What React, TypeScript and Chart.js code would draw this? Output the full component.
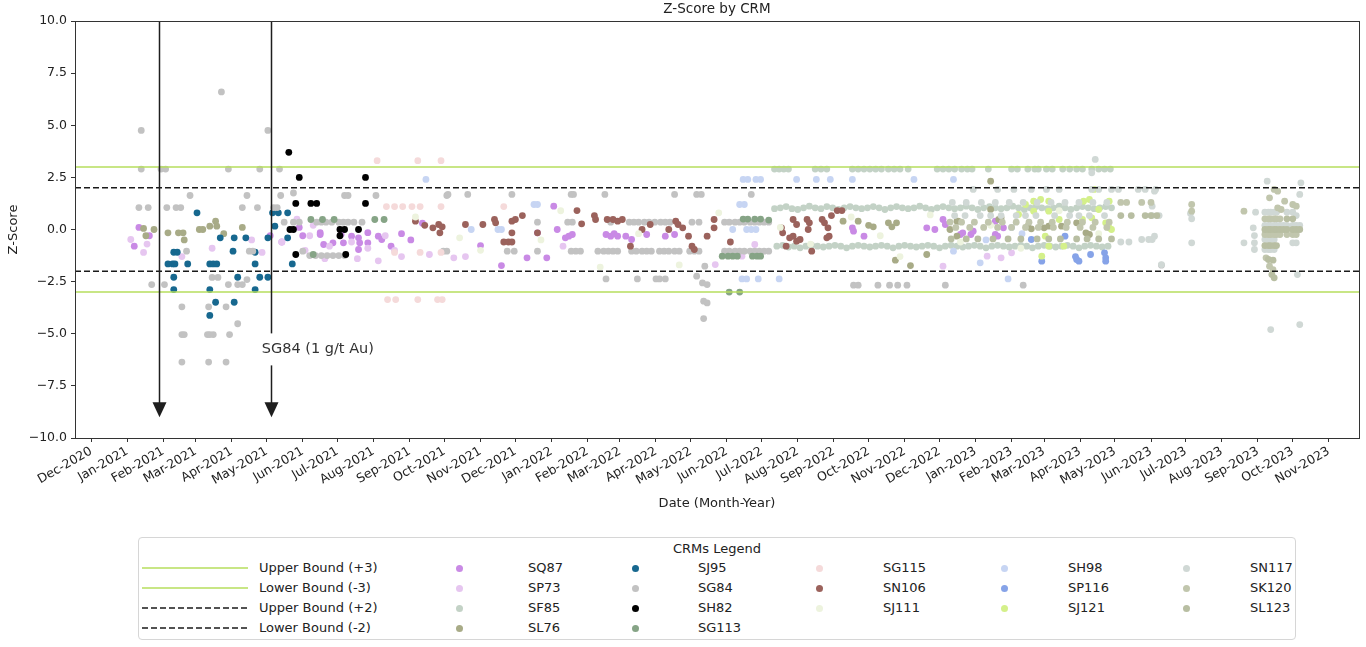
import { useEffect, useRef } from 'react';
import { Chart, registerables } from 'chart.js';

Chart.register(...registerables);

type Pt = [string, number];

const FONT = '"DejaVu Sans", sans-serif';

const xStart = '2020-11-17';
const xEnd = '2023-11-27';
const xTickLabels = [
  'Dec-2020', 'Jan-2021', 'Feb-2021', 'Mar-2021', 'Apr-2021', 'May-2021', 'Jun-2021', 'Jul-2021',
  'Aug-2021', 'Sep-2021', 'Oct-2021', 'Nov-2021', 'Dec-2021', 'Jan-2022', 'Feb-2022', 'Mar-2022',
  'Apr-2022', 'May-2022', 'Jun-2022', 'Jul-2022', 'Aug-2022', 'Sep-2022', 'Oct-2022', 'Nov-2022',
  'Dec-2022', 'Jan-2023', 'Feb-2023', 'Mar-2023', 'Apr-2023', 'May-2023', 'Jun-2023', 'Jul-2023',
  'Aug-2023', 'Sep-2023', 'Oct-2023', 'Nov-2023',
];
const monthNames = ['Jan', 'Feb', 'Mar', 'Apr', 'May', 'Jun', 'Jul', 'Aug', 'Sep', 'Oct', 'Nov', 'Dec'];

const boundLabels = ['Upper Bound (+3)', 'Lower Bound (-3)', 'Upper Bound (+2)', 'Lower Bound (-2)'];
const boundValues = [3, -3, 2, -2];
const boundColors = ['#b6de5c', '#b6de5c', '#1a1a1a', '#1a1a1a'];
const boundDashes = [[], [], [6, 3], [6, 3]];

// annotation: arrows pointing down on two dates, label next to the second
const arrowDates = ['2021-01-28', '2021-05-05'];
const arrowFrom = 10;
const arrowTo = -9;
const noteText = 'SG84 (1 g/t Au)';
const noteDate = '2021-06-14';
const noteZ = -5.75;

const sq87: Pt[] = [
  ['2021-01-07', -0.8], ['2021-01-11', 0.1], ['2021-01-20', -0.3],
  ['2021-05-04', -0.3], ['2021-05-14', -0.6], ['2021-05-29', 0.1], ['2021-06-01', -0.3], ['2021-06-16', -0.15],
  ['2021-06-16', -0.24], ['2021-06-19', -0.72], ['2021-06-27', -0.64], ['2021-07-04', -0.24], ['2021-07-06', -0.64],
  ['2021-07-13', -0.32], ['2021-07-19', -0.4], ['2021-07-19', -0.96], ['2021-07-20', -0.64], ['2021-07-27', -0.15],
  ['2021-07-27', -0.64], ['2021-08-05', -0.32], ['2021-08-08', -0.48], ['2021-08-16', -0.8], ['2021-08-25', -0.2],
  ['2021-09-02', -0.5], ['2021-09-12', 0.3],
  ['2021-11-01', -0.77], ['2021-11-19', -1.73], ['2021-12-11', -1.36], ['2021-12-20', -0.16], ['2021-12-28', -1.36],
  ['2022-01-03', 1.12], ['2022-01-06', 0.0], ['2022-01-13', -0.4], ['2022-01-16', -0.32], ['2022-01-19', -0.24],
  ['2022-02-17', -0.24], ['2022-02-21', -0.32], ['2022-02-24', -0.2], ['2022-02-27', -0.32], ['2022-03-06', -0.32],
  ['2022-03-11', -0.48], ['2022-03-24', -0.24], ['2022-04-09', -0.32], ['2022-04-17', -0.24],
  ['2022-09-17', 0.08], ['2022-09-18', -0.08], ['2022-09-27', -0.32], ['2022-11-20', 0.08], ['2022-11-27', 0.0],
  ['2022-12-04', 0.48], ['2022-12-06', 0.24], ['2022-12-19', -0.24], ['2022-12-21', -0.16], ['2022-12-28', -0.24],
  ['2022-12-30', -0.08], ['2023-01-18', -0.24], ['2023-01-18', 0.4], ['2023-01-20', -0.32], ['2023-01-25', 0.08],
];

const sp73: Pt[] = [
  ['2021-01-04', -0.48], ['2021-01-15', -1.1], ['2021-01-18', -0.7], ['2021-02-17', -1.3], ['2021-03-15', -0.9],
  ['2021-04-18', -0.5], ['2021-04-27', -1.1], ['2021-05-14', -0.6], ['2021-05-27', 0.5], ['2021-06-03', -1.0],
  ['2021-06-07', -0.3], ['2021-06-10', 0.2], ['2021-06-20', -1.4], ['2021-06-24', -0.8], ['2021-07-13', -0.6],
  ['2021-07-18', -1.4], ['2021-07-27', -0.9], ['2021-08-05', -1.5], ['2021-08-11', -0.3], ['2021-08-19', -1.0],
  ['2021-08-25', -1.3], ['2021-09-18', -1.2], ['2021-10-09', -1.36], ['2021-10-19', -1.3], ['2022-01-11', -0.8],
  ['2022-05-22', -1.68], ['2022-06-14', -1.28], ['2022-06-25', -0.72], ['2022-12-04', -1.76], ['2023-01-11', -1.28],
  ['2023-01-23', -1.36], ['2023-02-01', -1.12],
];

const sf85: Pt[] = [
  ['2022-07-12', 2.9], ['2022-07-16', 2.9], ['2022-07-20', 2.9], ['2022-07-24', 2.9], ['2022-08-16', 2.9],
  ['2022-08-21', 2.9], ['2022-08-26', 2.9], ['2022-09-17', 2.9], ['2022-09-22', 2.9], ['2022-09-27', 2.9],
  ['2022-10-02', 2.9], ['2022-10-07', 2.9], ['2022-10-12', 2.9], ['2022-10-18', 2.9], ['2022-10-23', 2.9],
  ['2022-10-28', 2.9], ['2022-11-04', 2.9], ['2022-11-29', 2.9], ['2022-12-04', 2.9], ['2022-12-09', 2.9],
  ['2022-12-14', 2.9], ['2022-12-20', 2.9], ['2022-12-25', 2.9], ['2022-12-29', 2.9], ['2023-01-12', 2.9],
  ['2023-02-01', 2.9], ['2023-02-06', 2.9], ['2023-02-15', 2.9], ['2023-02-21', 2.9], ['2023-02-24', 2.9],
  ['2023-03-03', 2.9], ['2023-03-08', 2.9], ['2023-03-17', 2.9], ['2023-03-23', 2.9], ['2023-03-29', 2.9],
  ['2023-04-03', 2.9], ['2023-04-11', 2.9], ['2023-04-17', 2.9], ['2023-04-22', 2.9], ['2023-04-27', 2.9],
  ['2022-07-12', 1.0], ['2022-07-17', 1.04], ['2022-07-22', 1.1], ['2022-07-27', 1.0], ['2022-08-01', 0.96],
  ['2022-08-06', 1.04], ['2022-08-11', 1.12], ['2022-08-16', 1.04], ['2022-08-21', 1.0], ['2022-08-26', 1.1],
  ['2022-08-31', 1.04], ['2022-09-05', 0.96], ['2022-09-10', 1.04], ['2022-09-15', 1.1], ['2022-09-20', 1.04],
  ['2022-09-25', 1.0], ['2022-09-30', 1.04], ['2022-10-05', 1.1], ['2022-10-10', 1.04], ['2022-10-15', 0.96],
  ['2022-10-20', 1.04], ['2022-10-25', 1.1], ['2022-10-30', 1.04], ['2022-11-04', 1.0], ['2022-11-09', 1.04],
  ['2022-11-14', 1.12], ['2022-11-19', 1.04], ['2022-11-24', 0.96], ['2022-11-29', 1.04], ['2022-12-04', 1.1],
  ['2022-12-09', 1.04], ['2022-12-14', 1.0], ['2022-12-19', 1.04], ['2022-12-24', 1.12], ['2022-12-29', 1.04],
  ['2023-01-03', 0.96], ['2023-01-08', 1.04], ['2023-01-13', 1.1], ['2023-01-18', 1.04], ['2023-01-23', 1.0],
  ['2023-01-28', 1.04], ['2023-02-02', 1.12], ['2023-02-07', 1.04], ['2023-02-12', 0.96], ['2023-02-17', 1.04],
  ['2023-02-22', 1.1], ['2023-02-27', 1.04], ['2023-03-04', 1.0], ['2023-03-09', 1.04], ['2023-03-14', 1.12],
  ['2023-03-19', 1.04], ['2023-03-24', 0.96], ['2023-03-29', 1.04], ['2023-04-03', 1.1], ['2023-04-08', 1.04],
  ['2023-04-13', 1.0], ['2023-04-18', 1.04], ['2023-04-23', 1.1], ['2023-04-28', 1.04],
  ['2022-07-14', -0.8], ['2022-07-19', -0.76], ['2022-07-24', -0.84], ['2022-07-29', -0.8], ['2022-08-03', -0.88],
  ['2022-08-08', -0.8], ['2022-08-13', -0.76], ['2022-08-18', -0.8], ['2022-08-23', -0.84], ['2022-08-28', -0.8],
  ['2022-09-02', -0.76], ['2022-09-07', -0.8], ['2022-09-12', -0.88], ['2022-09-17', -0.8], ['2022-09-22', -0.76],
  ['2022-09-27', -0.8], ['2022-10-02', -0.84], ['2022-10-07', -0.8], ['2022-10-12', -0.76], ['2022-10-17', -0.8],
  ['2022-10-22', -0.88], ['2022-10-27', -0.8], ['2022-11-01', -0.76], ['2022-11-06', -0.8], ['2022-11-11', -0.84],
  ['2022-11-16', -0.8], ['2022-11-21', -0.76], ['2022-11-26', -0.8], ['2022-12-01', -0.88], ['2022-12-06', -0.8],
  ['2022-12-11', -0.76], ['2022-12-16', -0.8], ['2022-12-21', -0.84], ['2022-12-26', -0.8], ['2022-12-31', -0.76],
  ['2023-01-05', -0.8], ['2023-01-10', -0.88], ['2023-01-15', -0.8], ['2023-01-20', -0.76], ['2023-01-25', -0.8],
  ['2023-01-30', -0.84], ['2023-02-04', -0.8], ['2023-02-09', -0.76], ['2023-02-14', -0.8], ['2023-02-19', -0.88],
  ['2023-02-24', -0.8], ['2023-03-01', -0.76], ['2023-03-06', -0.8], ['2023-03-11', -0.84], ['2023-03-16', -0.8],
  ['2023-03-21', -0.76], ['2023-03-26', -0.8], ['2023-03-31', -0.88], ['2023-04-05', -0.8], ['2023-04-10', -0.76],
  ['2023-04-15', -0.8], ['2023-04-20', -0.84], ['2023-04-25', -0.8],
];

const sl76: Pt[] = [
  ['2021-01-15', 0.05], ['2021-01-17', -0.3], ['2021-01-24', 0.0], ['2021-02-05', -0.16], ['2021-02-14', -0.16],
  ['2021-02-18', -0.16], ['2021-02-19', -0.5], ['2021-03-04', 0.0], ['2021-03-07', 0.0], ['2021-03-13', 0.16],
  ['2021-03-18', 0.4], ['2021-03-19', 0.16], ['2021-03-25', -0.2], ['2021-04-10', 0.1],
  ['2022-09-09', 0.4], ['2022-09-22', 0.4], ['2022-10-01', 0.2], ['2022-10-05', 0.13], ['2022-10-18', 0.32],
  ['2022-10-21', 0.13], ['2022-10-24', -1.47], ['2022-10-25', 0.32], ['2022-11-06', -1.73], ['2022-11-20', -1.2],
  ['2022-12-10', 0.0], ['2022-12-16', 0.4], ['2022-12-16', -0.32], ['2022-12-17', 0.4], ['2023-01-14', 0.96],
  ['2023-01-14', 2.32], ['2023-01-21', 0.48], ['2023-01-23', 0.56], ['2023-02-15', 0.16], ['2023-02-18', 0.03],
  ['2023-03-01', 0.08], ['2023-03-05', 0.16], ['2023-03-16', 0.16], ['2023-03-29', 0.32], ['2023-04-06', -0.16],
  ['2023-04-09', -0.24],
];

const sj95: Pt[] = [
  ['2021-02-05', -1.65], ['2021-02-09', -1.65], ['2021-02-10', -1.09], ['2021-02-10', -2.29], ['2021-02-10', -2.88],
  ['2021-02-11', -1.65], ['2021-02-13', -1.09], ['2021-02-22', -1.65], ['2021-03-02', 0.8], ['2021-03-13', -1.65],
  ['2021-03-13', -2.88], ['2021-03-13', -4.12], ['2021-03-16', -1.65], ['2021-03-18', -3.49], ['2021-03-19', -1.65],
  ['2021-03-22', -0.4], ['2021-04-02', -1.04], ['2021-04-03', -0.4], ['2021-04-03', -3.49], ['2021-04-06', -2.29],
  ['2021-04-13', -0.4], ['2021-04-21', -1.09], ['2021-04-21', -1.65], ['2021-04-21', -2.88], ['2021-04-25', -2.29],
  ['2021-05-02', -0.4], ['2021-05-02', -2.29], ['2021-05-06', 0.8], ['2021-05-08', 0.16], ['2021-05-11', 0.8],
  ['2021-05-19', 0.8], ['2021-05-19', -0.4], ['2021-05-23', -1.65],
];

const sg84: Pt[] = [
  ['2021-01-11', 1.05], ['2021-01-13', 4.75], ['2021-01-13', 2.9], ['2021-01-19', 1.05], ['2021-01-22', -2.64],
  ['2021-01-30', 2.9], ['2021-02-02', -2.64], ['2021-02-03', 2.9], ['2021-02-04', 1.05], ['2021-02-12', 1.05],
  ['2021-02-16', 1.05], ['2021-02-17', -3.71], ['2021-02-17', -5.04], ['2021-02-17', -6.36], ['2021-02-19', -5.04],
  ['2021-02-21', -1.04], ['2021-02-24', 1.63], ['2021-03-11', -5.04], ['2021-03-12', -3.71], ['2021-03-12', -6.36],
  ['2021-03-13', -5.04], ['2021-03-15', -2.3], ['2021-03-16', -5.04], ['2021-03-20', -2.3], ['2021-03-23', 6.6],
  ['2021-03-27', -3.71], ['2021-03-27', -6.36], ['2021-03-29', 2.9], ['2021-03-29', -2.64], ['2021-03-30', -5.04],
  ['2021-04-06', -2.64], ['2021-04-06', -4.52], ['2021-04-10', 1.05], ['2021-04-10', -2.64], ['2021-04-14', 1.63],
  ['2021-04-14', -2.4], ['2021-04-16', -1.04], ['2021-04-19', -1.04], ['2021-04-23', 1.05], ['2021-04-25', 2.9],
  ['2021-05-02', 4.75], ['2021-05-07', 1.05], ['2021-05-10', 1.05], ['2021-05-12', 2.9], ['2021-05-13', 1.63],
  ['2021-05-16', 0.35], ['2021-05-24', 1.75], ['2021-05-24', 0.35], ['2021-05-29', 0.35], ['2021-06-01', -1.04],
  ['2021-06-07', -1.25], ['2021-06-12', -1.25], ['2021-06-13', 0.35], ['2021-06-17', 0.35], ['2021-06-17', -1.25],
  ['2021-06-21', 0.35], ['2021-06-22', -1.25], ['2021-06-26', 0.35], ['2021-06-27', -1.25], ['2021-07-02', 0.35],
  ['2021-07-02', -1.25], ['2021-07-06', 0.35], ['2021-07-07', 1.63], ['2021-07-07', -1.25], ['2021-07-10', 1.63],
  ['2021-07-10', 0.35], ['2021-07-15', 0.35], ['2021-07-22', 0.35], ['2021-08-03', 1.63],
  ['2021-09-30', -1.04], ['2021-10-03', 1.63], ['2021-10-03', -1.04], ['2021-10-04', 1.68], ['2021-10-21', 1.68],
  ['2021-11-24', -1.04], ['2021-11-28', 1.68], ['2021-11-30', -1.04], ['2021-12-20', 0.35], ['2021-12-20', -1.04],
  ['2022-01-15', 0.35], ['2022-01-18', 1.68], ['2022-01-18', -1.04], ['2022-01-19', 0.35], ['2022-01-20', 1.68],
  ['2022-01-22', -1.04], ['2022-01-26', -1.04], ['2022-02-10', -1.04], ['2022-02-15', -1.04], ['2022-02-16', 1.68],
  ['2022-02-17', -2.37], ['2022-02-19', -1.04], ['2022-02-21', 0.35], ['2022-02-23', -1.04], ['2022-02-27', -1.04],
  ['2022-03-09', 0.35], ['2022-03-11', -1.04], ['2022-03-13', 0.35], ['2022-03-15', -1.04], ['2022-03-16', -2.37],
  ['2022-03-17', 0.35], ['2022-03-20', -1.04], ['2022-03-22', 0.35], ['2022-03-24', -1.04], ['2022-03-26', 0.35],
  ['2022-03-28', -1.04], ['2022-03-31', 0.35], ['2022-04-01', -2.37], ['2022-04-04', -1.04], ['2022-04-04', -2.37],
  ['2022-04-05', 0.35], ['2022-04-08', -1.04], ['2022-04-09', 0.35], ['2022-04-09', -2.37], ['2022-04-12', -1.04],
  ['2022-04-13', 0.35], ['2022-04-17', 1.68], ['2022-04-17', -1.04], ['2022-04-21', -1.04], ['2022-04-30', -1.04],
  ['2022-05-02', 0.35], ['2022-05-04', -1.04], ['2022-05-06', 1.68], ['2022-05-06', -2.24], ['2022-05-08', 0.35],
  ['2022-05-08', -1.04], ['2022-05-10', 1.68], ['2022-05-11', -2.56], ['2022-05-12', -3.44], ['2022-05-12', -4.27],
  ['2022-05-13', -1.76], ['2022-05-15', -2.64], ['2022-05-15', -3.52], ['2022-05-30', 0.35], ['2022-05-30', -1.04],
  ['2022-06-03', 0.35], ['2022-06-03', -1.04], ['2022-06-08', 0.35], ['2022-06-08', -1.04], ['2022-06-12', 0.35],
  ['2022-06-12', -1.04], ['2022-06-16', 0.35], ['2022-06-16', -1.04], ['2022-06-21', 0.35], ['2022-06-21', -1.04],
  ['2022-06-22', 1.68], ['2022-06-25', 0.35], ['2022-06-25', -1.04], ['2022-06-29', 0.35], ['2022-06-29', -1.04],
  ['2022-07-03', 0.35], ['2022-07-03', -1.04], ['2022-07-07', 0.35], ['2022-07-07', -1.04], ['2022-09-18', -2.67],
  ['2022-09-22', -2.67], ['2022-10-09', -2.67], ['2022-10-19', -2.67], ['2022-10-26', -2.67], ['2022-11-03', -2.67],
  ['2022-12-06', -2.67], ['2023-02-11', -2.67], ['2023-06-10', -1.71],
];

const sh82: Pt[] = [
  ['2021-05-20', 3.7], ['2021-05-21', 0.0], ['2021-05-24', 0.0], ['2021-05-26', 1.25], ['2021-05-26', -1.2],
  ['2021-05-29', 2.5], ['2021-06-08', 1.25], ['2021-06-13', 1.25], ['2021-07-03', 0.0], ['2021-07-03', -0.3],
  ['2021-07-07', 0.0], ['2021-07-08', -1.2], ['2021-07-19', 0.0], ['2021-07-25', 2.5], ['2021-07-25', 1.25],
];

const sg113: Pt[] = [
  ['2021-06-08', 0.48], ['2021-06-10', -1.2], ['2021-06-18', 0.48], ['2021-06-28', 0.48], ['2021-08-02', 0.48],
  ['2021-08-10', 0.48], ['2022-05-28', -1.28], ['2022-06-02', -1.28], ['2022-06-03', -3.0], ['2022-06-06', -1.28],
  ['2022-06-10', -1.28], ['2022-06-12', -3.0], ['2022-06-15', 0.5], ['2022-06-19', 0.5], ['2022-06-23', -1.28],
  ['2022-06-25', 0.5], ['2022-06-27', -1.28], ['2022-06-30', 0.5], ['2022-06-30', -1.28], ['2022-07-07', 0.45],
];

const sg115: Pt[] = [
  ['2021-08-04', 3.3], ['2021-08-12', 1.1], ['2021-08-13', -3.36], ['2021-08-19', 1.1], ['2021-08-19', -1.1],
  ['2021-08-20', -3.36], ['2021-08-26', 1.1], ['2021-09-03', 1.1], ['2021-09-08', 3.3], ['2021-09-08', -3.36],
  ['2021-09-10', 1.1], ['2021-09-10', -1.1], ['2021-09-25', -3.36], ['2021-09-28', 3.3], ['2021-09-28', 1.1],
  ['2021-09-28', -1.1], ['2021-09-29', -3.36], ['2021-11-21', 1.1],
];

const sn106: Pt[] = [
  ['2021-09-06', 0.4], ['2021-09-14', 0.2], ['2021-09-21', 0.08], ['2021-09-26', 0.24], ['2021-09-27', -0.16],
  ['2021-09-29', 0.13], ['2021-10-19', 0.24], ['2021-11-03', 0.24], ['2021-11-13', 0.48], ['2021-11-14', 0.32],
  ['2021-11-21', -0.6], ['2021-11-25', -0.6], ['2021-11-28', 0.4], ['2021-11-28', -0.16], ['2021-11-28', -0.6],
  ['2021-12-01', 0.48], ['2021-12-07', 0.67], ['2021-12-20', -0.16], ['2022-01-23', 0.91], ['2022-01-27', 0.27],
  ['2022-02-07', 0.67], ['2022-02-08', 0.48], ['2022-02-18', 0.48], ['2022-02-23', 0.48], ['2022-02-27', 0.4],
  ['2022-03-03', 0.48], ['2022-03-10', -0.8], ['2022-03-20', 0.0], ['2022-03-27', 0.24], ['2022-04-12', 0.0],
  ['2022-04-18', 0.4], ['2022-04-20', 0.24], ['2022-04-24', 0.08], ['2022-04-29', -0.32], ['2022-05-02', -0.8],
  ['2022-05-04', -0.96], ['2022-05-15', -0.32], ['2022-05-21', 0.48], ['2022-05-21', 0.08], ['2022-06-04', -0.6],
  ['2022-07-18', 0.08], ['2022-07-19', -0.16], ['2022-07-22', -0.8], ['2022-07-25', -0.4], ['2022-07-28', 0.48],
  ['2022-07-28', -0.32], ['2022-07-31', 0.24], ['2022-07-31', -0.56], ['2022-08-03', -0.48], ['2022-08-09', 0.48],
  ['2022-08-10', 0.0], ['2022-08-11', 0.32], ['2022-08-13', -1.04], ['2022-08-22', 0.48], ['2022-08-24', 0.32],
  ['2022-08-26', -0.4], ['2022-08-27', 0.08], ['2022-08-28', -0.32], ['2022-08-30', 0.67], ['2022-09-04', 0.91],
  ['2022-09-08', 0.91],
];

const sj111: Pt[] = [
  ['2021-09-06', 0.6], ['2021-10-14', -0.4], ['2021-11-01', -1.0], ['2021-12-23', -0.5], ['2022-01-09', 0.9],
  ['2022-02-12', -1.8], ['2022-03-17', -0.2], ['2022-04-21', -1.7], ['2022-05-25', 0.8], ['2022-07-17', 0.1],
  ['2022-08-12', -0.7], ['2022-09-16', 0.6], ['2022-10-11', -0.3], ['2022-10-28', -1.3], ['2022-11-23', 0.7],
  ['2022-12-19', -0.6], ['2023-01-14', 0.2], ['2023-02-09', -0.9], ['2023-03-14', 0.9], ['2023-04-17', -0.2],
];

const sh98: Pt[] = [
  ['2021-09-15', 2.4], ['2021-10-24', 0.0], ['2021-11-16', 0.0], ['2021-11-19', 0.0], ['2021-12-17', 1.2],
  ['2021-12-20', 1.2], ['2022-06-06', 0.0], ['2022-06-12', 1.2], ['2022-06-14', -2.37], ['2022-06-15', 2.4],
  ['2022-06-16', 1.2], ['2022-06-18', 0.0], ['2022-06-18', -2.37], ['2022-06-19', 2.4], ['2022-06-22', 0.0],
  ['2022-06-26', 2.4], ['2022-06-26', 0.0], ['2022-06-28', -2.37], ['2022-06-30', 2.4], ['2022-07-16', -2.37],
  ['2022-07-31', 2.4], ['2022-08-17', 2.4], ['2022-08-29', 2.4], ['2022-09-17', 2.4], ['2022-11-09', 2.4],
  ['2022-12-13', 2.4], ['2022-12-13', -1.04], ['2023-01-05', -1.6], ['2023-01-10', -0.5], ['2023-01-29', -2.37],
  ['2023-02-01', 0.1], ['2023-02-10', -0.2],
];

const sp116: Pt[] = [
  ['2023-02-18', -0.48], ['2023-02-27', -1.52], ['2023-03-19', -0.32], ['2023-03-28', -1.3], ['2023-03-29', -1.44],
  ['2023-03-31', -1.52], ['2023-04-10', -1.2], ['2023-04-22', -1.12], ['2023-04-23', -1.36], ['2023-04-23', -1.52],
];

const sj121: Pt[] = [
  ['2023-02-07', 0.72], ['2023-02-13', 1.2], ['2023-02-20', 1.36], ['2023-02-20', 0.88], ['2023-02-26', 1.44],
  ['2023-02-27', -1.28], ['2023-03-02', -0.32], ['2023-03-05', 1.36], ['2023-03-05', 0.88], ['2023-03-05', -0.8],
  ['2023-03-14', 0.48], ['2023-03-18', -0.8], ['2023-04-03', 0.48], ['2023-04-04', 1.36], ['2023-04-09', 1.44],
  ['2023-04-11', 0.56], ['2023-04-13', 1.92], ['2023-04-17', 0.96], ['2023-04-23', 0.32], ['2023-04-26', 1.36],
  ['2023-04-26', 0.08], ['2023-04-28', 0.0],
];

const sn117: Pt[] = [
  ['2022-12-30', 1.92], ['2023-01-20', 1.92], ['2023-02-03', 1.92], ['2023-02-18', 1.92], ['2023-03-03', 1.92],
  ['2023-03-14', 1.92], ['2023-04-11', 1.92], ['2023-04-17', 1.92], ['2023-04-28', 1.92], ['2023-05-04', 1.92],
  ['2023-05-21', 1.92], ['2023-05-27', 1.92], ['2023-06-05', 1.92], ['2023-04-14', 3.36], ['2023-04-11', 2.72],
  ['2022-12-12', 1.3], ['2022-12-24', 1.3], ['2023-01-06', 1.3], ['2023-01-18', 1.3], ['2023-01-30', 1.3],
  ['2023-02-11', 1.3], ['2023-02-23', 1.3], ['2023-03-07', 1.3], ['2023-03-19', 1.3], ['2023-03-31', 1.3],
  ['2023-04-12', 1.3], ['2023-04-24', 1.3],
  ['2022-12-14', 0.67], ['2022-12-23', 0.67], ['2023-01-05', 0.67], ['2023-01-14', 0.67], ['2023-01-23', 0.67],
  ['2023-02-05', 0.67], ['2023-02-13', 0.67], ['2023-02-22', 0.67], ['2023-03-10', 0.67], ['2023-03-23', 0.67],
  ['2023-03-31', 0.67], ['2023-04-09', 0.67], ['2023-04-22', 0.67],
  ['2023-05-06', -0.6], ['2023-05-13', -0.6], ['2023-05-24', -0.48], ['2023-05-30', -0.48], ['2023-06-04', -0.32],
  ['2023-06-02', -0.48], ['2023-06-10', -1.68], ['2023-06-04', 1.84], ['2023-06-02', 1.12], ['2023-06-02', 0.67],
  ['2023-06-08', 0.67], ['2023-07-05', 0.77], ['2023-07-06', 0.51], ['2023-07-06', -0.64],
  ['2023-08-20', -0.64], ['2023-08-28', 0.08], ['2023-08-29', -0.29], ['2023-08-29', -0.64], ['2023-08-29', -0.96],
  ['2023-08-30', 0.83], ['2023-09-09', 2.32], ['2023-09-12', -4.8], ['2023-10-08', 2.24], ['2023-10-07', 1.68],
  ['2023-10-07', -4.56], ['2023-10-05', -2.16],
  ['2023-09-07', 0.83], ['2023-09-10', 0.83], ['2023-09-12', 0.83], ['2023-09-15', 0.83], ['2023-09-17', 0.83],
  ['2023-09-07', 0.2], ['2023-09-10', 0.2], ['2023-09-12', 0.2], ['2023-09-15', 0.2], ['2023-09-17', 0.2],
  ['2023-09-20', 0.2], ['2023-09-23', 0.2], ['2023-09-07', -0.48], ['2023-09-10', -0.48], ['2023-09-12', -0.48],
  ['2023-09-15', -0.48], ['2023-09-07', -0.96], ['2023-09-10', -0.96], ['2023-09-12', -0.96], ['2023-09-15', -0.96],
  ['2023-09-26', 0.83], ['2023-10-01', 0.83], ['2023-10-04', 0.67], ['2023-09-26', 0.2], ['2023-10-01', 0.2],
  ['2023-10-04', 0.2], ['2023-10-07', 0.2], ['2023-10-01', -0.64], ['2023-10-04', -0.64],
];

const sk120: Pt[] = [
  ['2022-12-10', 0.35], ['2022-12-20', 0.35], ['2022-12-31', 0.35], ['2023-01-12', 0.35], ['2023-01-24', 0.35],
  ['2023-02-05', 0.35], ['2023-02-16', 0.35], ['2023-02-26', 0.35], ['2023-03-08', 0.35], ['2023-03-21', 0.35],
  ['2023-04-03', 0.35], ['2023-04-14', 0.35], ['2023-04-26', 0.35],
  ['2022-12-15', 0.1], ['2022-12-27', 0.1], ['2023-01-08', 0.1], ['2023-01-20', 0.1], ['2023-02-01', 0.1],
  ['2023-02-13', 0.1], ['2023-02-24', 0.1], ['2023-03-09', 0.1], ['2023-03-20', 0.1], ['2023-04-01', 0.1],
  ['2023-04-12', 0.1], ['2023-04-24', 0.1],
  ['2023-05-06', 1.3], ['2023-05-11', 1.3], ['2023-05-24', 1.3], ['2023-06-01', 1.3], ['2023-07-06', 1.2],
  ['2023-07-06', 0.88],
  ['2023-09-07', 0.51], ['2023-09-10', 0.51], ['2023-09-12', 0.51], ['2023-09-15', 0.51], ['2023-09-17', 0.51],
  ['2023-09-20', 0.51], ['2023-09-07', -0.24], ['2023-09-10', -0.24], ['2023-09-12', -0.24], ['2023-09-15', -0.24],
  ['2023-09-17', -0.24], ['2023-09-20', -0.24], ['2023-09-26', -0.24], ['2023-10-01', -0.24], ['2023-10-04', -0.24],
  ['2023-08-20', 0.88], ['2023-09-11', 1.52], ['2023-09-15', 1.92], ['2023-09-18', 1.84], ['2023-09-18', 1.04],
  ['2023-09-21', 0.96], ['2023-09-24', 1.36], ['2023-10-01', 1.2], ['2023-10-04', 1.12], ['2023-09-08', -1.36],
  ['2023-09-11', -1.76], ['2023-09-14', -1.92],
];

const sl123: Pt[] = [
  ['2022-12-11', -0.45], ['2022-12-24', -0.45], ['2023-01-03', -0.45], ['2023-01-16', -0.45], ['2023-01-29', -0.45],
  ['2023-02-09', -0.45], ['2023-02-23', -0.45], ['2023-03-05', -0.45], ['2023-03-15', -0.45], ['2023-03-29', -0.45],
  ['2023-04-07', -0.45], ['2023-04-17', -0.45], ['2023-04-28', -0.45],
  ['2023-05-06', 0.67], ['2023-05-15', 0.67], ['2023-05-27', 0.67], ['2023-06-01', 0.67], ['2023-06-06', 0.67],
  ['2023-09-07', 0.0], ['2023-09-10', 0.0], ['2023-09-12', 0.0], ['2023-09-15', 0.0], ['2023-09-17', 0.0],
  ['2023-09-20', 0.0], ['2023-09-23', 0.0], ['2023-09-07', -0.77], ['2023-09-10', -0.77], ['2023-09-12', -0.77],
  ['2023-09-15', -0.77], ['2023-09-17', -0.77], ['2023-09-26', 0.0], ['2023-10-01', 0.0], ['2023-10-04', 0.0],
  ['2023-10-07', 0.0], ['2023-09-26', 0.51], ['2023-10-01', 0.51], ['2023-09-10', -1.44], ['2023-09-14', -1.47],
  ['2023-09-13', -2.16], ['2023-09-15', -2.32],
];

const crmNames = [
  'SQ87', 'SP73', 'SF85', 'SL76', 'SJ95', 'SG84', 'SH82', 'SG113', 'SG115',
  'SN106', 'SJ111', 'SH98', 'SP116', 'SJ121', 'SN117', 'SK120', 'SL123',
];
const crmColors = [
  '#c98ae5', '#e6c6f0', '#c3d2c6', '#a8ab87', '#17688f', '#c2c2c2', '#000000', '#86a486', '#f5dada',
  '#9b625c', '#edf3de', '#c7d5f3', '#86a3e8', '#d4f08a', '#d0d8d5', '#c1c6ad', '#b8bea2',
];
const crmSeries = [
  sq87, sp73, sf85, sl76, sj95, sg84, sh82, sg113, sg115,
  sn106, sj111, sh98, sp116, sj121, sn117, sk120, sl123,
];

const day = (s: string) => Date.parse(s) / 864e5;
const labelDay = (label: string) => {
  const [mon, yr] = label.split('-');
  return Date.UTC(Number(yr), monthNames.indexOf(mon), 1) / 864e5;
};
const fmtY = (v: number) => (v < 0 ? '\u2212' : '') + Math.abs(v).toFixed(1);

const framePlugin = {
  id: 'frameAndNotes',
  afterDatasetsDraw(chart: any) {
    const { ctx, chartArea, scales } = chart;
    const { x, y } = scales;
    ctx.save();
    // arrows
    ctx.strokeStyle = '#1e1e1e';
    ctx.fillStyle = '#1e1e1e';
    ctx.lineWidth = 1.5;
    arrowDates.forEach((d) => {
      const px = Math.round(x.getPixelForValue(day(d))) + 0.5;
      const y0 = y.getPixelForValue(arrowFrom);
      const y1 = y.getPixelForValue(arrowTo);
      ctx.beginPath();
      ctx.moveTo(px, y0);
      ctx.lineTo(px, y1 - 12);
      ctx.stroke();
      ctx.beginPath();
      ctx.moveTo(px - 7, y1 - 15);
      ctx.lineTo(px + 7, y1 - 15);
      ctx.lineTo(px, y1);
      ctx.closePath();
      ctx.fill();
    });
    // note label with white box
    ctx.font = `14.5px ${FONT}`;
    const nx = x.getPixelForValue(day(noteDate));
    const ny = y.getPixelForValue(noteZ);
    const w = ctx.measureText(noteText).width;
    ctx.fillStyle = '#ffffff';
    ctx.fillRect(nx - w / 2 - 5, ny - 16, w + 10, 32);
    ctx.fillStyle = '#333333';
    ctx.textAlign = 'center';
    ctx.textBaseline = 'middle';
    ctx.fillText(noteText, nx, ny);
    // frame
    ctx.strokeStyle = '#333333';
    ctx.lineWidth = 1;
    ctx.strokeRect(
      Math.round(chartArea.left) + 0.5,
      Math.round(chartArea.top) + 0.5,
      Math.round(chartArea.right - chartArea.left),
      Math.round(chartArea.bottom - chartArea.top),
    );
    // title
    ctx.fillStyle = '#222222';
    ctx.font = `13.5px ${FONT}`;
    ctx.fillText('Z-Score by CRM', (chartArea.left + chartArea.right) / 2, 9);
    ctx.restore();
  },
};

function ZScoreChart() {
  const chartRef = useRef<HTMLCanvasElement>(null);
  const chartInstance = useRef<Chart | null>(null);

  useEffect(() => {
    if (!chartRef.current) return;
    if (chartInstance.current) chartInstance.current.destroy();
    const ctx = chartRef.current.getContext('2d');
    if (!ctx) return;

    const tickFont = { family: FONT, size: 12.5 };
    const axisGrid = { display: true, drawOnChartArea: false, drawTicks: true, tickLength: 4, color: '#333333' };

    chartInstance.current = new Chart(ctx, {
      type: 'scatter',
      data: {
        datasets: [
          ...crmNames.map((name, i) => ({
            type: 'scatter' as const,
            label: name,
            data: crmSeries[i].map(([d, z]) => ({ x: day(d), y: z })),
            backgroundColor: crmColors[i],
            borderWidth: 0,
            pointRadius: 3.4,
            order: -i,
          })),
          ...boundLabels.map((label, i) => ({
            type: 'line' as const,
            label,
            data: [
              { x: day(xStart), y: boundValues[i] },
              { x: day(xEnd), y: boundValues[i] },
            ],
            borderColor: boundColors[i],
            borderWidth: 1.6,
            borderDash: boundDashes[i],
            pointRadius: 0,
            showLine: true,
            order: -100,
          })),
        ],
      } as any,
      options: {
        animation: false,
        responsive: true,
        maintainAspectRatio: false,
        events: [],
        layout: { padding: { top: 21, right: 7, bottom: 0, left: 0 } },
        plugins: { legend: { display: false }, tooltip: { enabled: false }, title: { display: false } },
        scales: {
          x: {
            type: 'linear',
            min: day(xStart),
            max: day(xEnd),
            afterBuildTicks: (scale: any) => {
              scale.ticks = xTickLabels.map((l) => ({ value: labelDay(l) }));
            },
            afterFit: (scale: any) => {
              scale.height = 92;
            },
            ticks: {
              autoSkip: false,
              minRotation: 30,
              maxRotation: 30,
              padding: 2,
              color: '#222222',
              font: tickFont,
              callback: (_v: any, i: number) => xTickLabels[i],
            },
            grid: axisGrid,
            border: { display: true, color: '#333333', width: 1 },
            title: {
              display: true,
              text: 'Date (Month-Year)',
              color: '#222222',
              font: { family: FONT, size: 13 },
              padding: { top: 0, bottom: 19 },
            },
          },
          y: {
            min: -10,
            max: 10,
            afterFit: (scale: any) => {
              scale.width = 75;
            },
            ticks: {
              stepSize: 2.5,
              padding: 4,
              color: '#222222',
              font: tickFont,
              callback: (v: any) => fmtY(Number(v)),
            },
            grid: axisGrid,
            border: { display: true, color: '#333333', width: 1 },
            title: {
              display: true,
              text: 'Z-Score',
              color: '#222222',
              font: { family: FONT, size: 13 },
              padding: { top: 6, bottom: 0 },
            },
          },
        },
      } as any,
      plugins: [framePlugin],
    });

    return () => {
      if (chartInstance.current) {
        chartInstance.current.destroy();
        chartInstance.current = null;
      }
    };
  }, []);

  return (
    <div style={{ position: 'absolute', left: 0, top: 0, width: 1366, height: 530 }}>
      <canvas ref={chartRef}></canvas>
    </div>
  );
}

// legend column layout (px from the legend box's left edge)
const legendMarkerX = [320, 496, 680, 865, 1047];
const legendTextX = [389, 559, 744, 929, 1111];
const legendRowY = [31, 51, 71, 91];

function CrmLegend() {
  const textStyle = { position: 'absolute' as const, fontSize: 13, lineHeight: '16px', color: '#222', whiteSpace: 'nowrap' as const };
  return (
    <div
      style={{
        position: 'absolute', left: 138, top: 537, width: 1158, height: 103, boxSizing: 'border-box',
        border: '1px solid #d6d6d6', borderRadius: 4, fontFamily: FONT, background: '#fff',
      }}
    >
      <div style={{ ...textStyle, left: 0, width: '100%', textAlign: 'center', top: 12 - 8 - 1 }}>CRMs Legend</div>
      {boundLabels.map((label, i) => (
        <div key={label}>
          <svg style={{ position: 'absolute', left: 3, top: legendRowY[i] - 1 - 4 }} width={108} height={8}>
            <line
              x1={0} y1={4} x2={106} y2={4}
              stroke={boundColors[i]} strokeWidth={1.6}
              strokeDasharray={boundDashes[i].length ? boundDashes[i].join(' ') : undefined}
            />
          </svg>
          <div style={{ ...textStyle, left: 120, top: legendRowY[i] - 1 - 8 }}>{label}</div>
        </div>
      ))}
      {crmNames.map((name, i) => {
        // columns filled top-down: 4, 4, 3, 3, 3
        const colStarts = [0, 4, 8, 11, 14];
        let col = 0;
        for (let c = 0; c < colStarts.length; c++) if (i >= colStarts[c]) col = c;
        const row = i - colStarts[col];
        const cy = legendRowY[row] - 1;
        return (
          <div key={name}>
            <div
              style={{
                position: 'absolute', left: legendMarkerX[col] - 3.5, top: cy - 3.5, width: 7, height: 7,
                borderRadius: '50%', background: crmColors[i],
              }}
            />
            <div style={{ ...textStyle, left: legendTextX[col], top: cy - 8 }}>{name}</div>
          </div>
        );
      })}
    </div>
  );
}

export default function App() {
  useEffect(() => {
    document.body.style.margin = '0';
  }, []);
  return (
    <div style={{ position: 'relative', width: 1366, height: 647, background: '#fff', fontFamily: FONT }}>
      <ZScoreChart />
      <CrmLegend />
    </div>
  );
}
